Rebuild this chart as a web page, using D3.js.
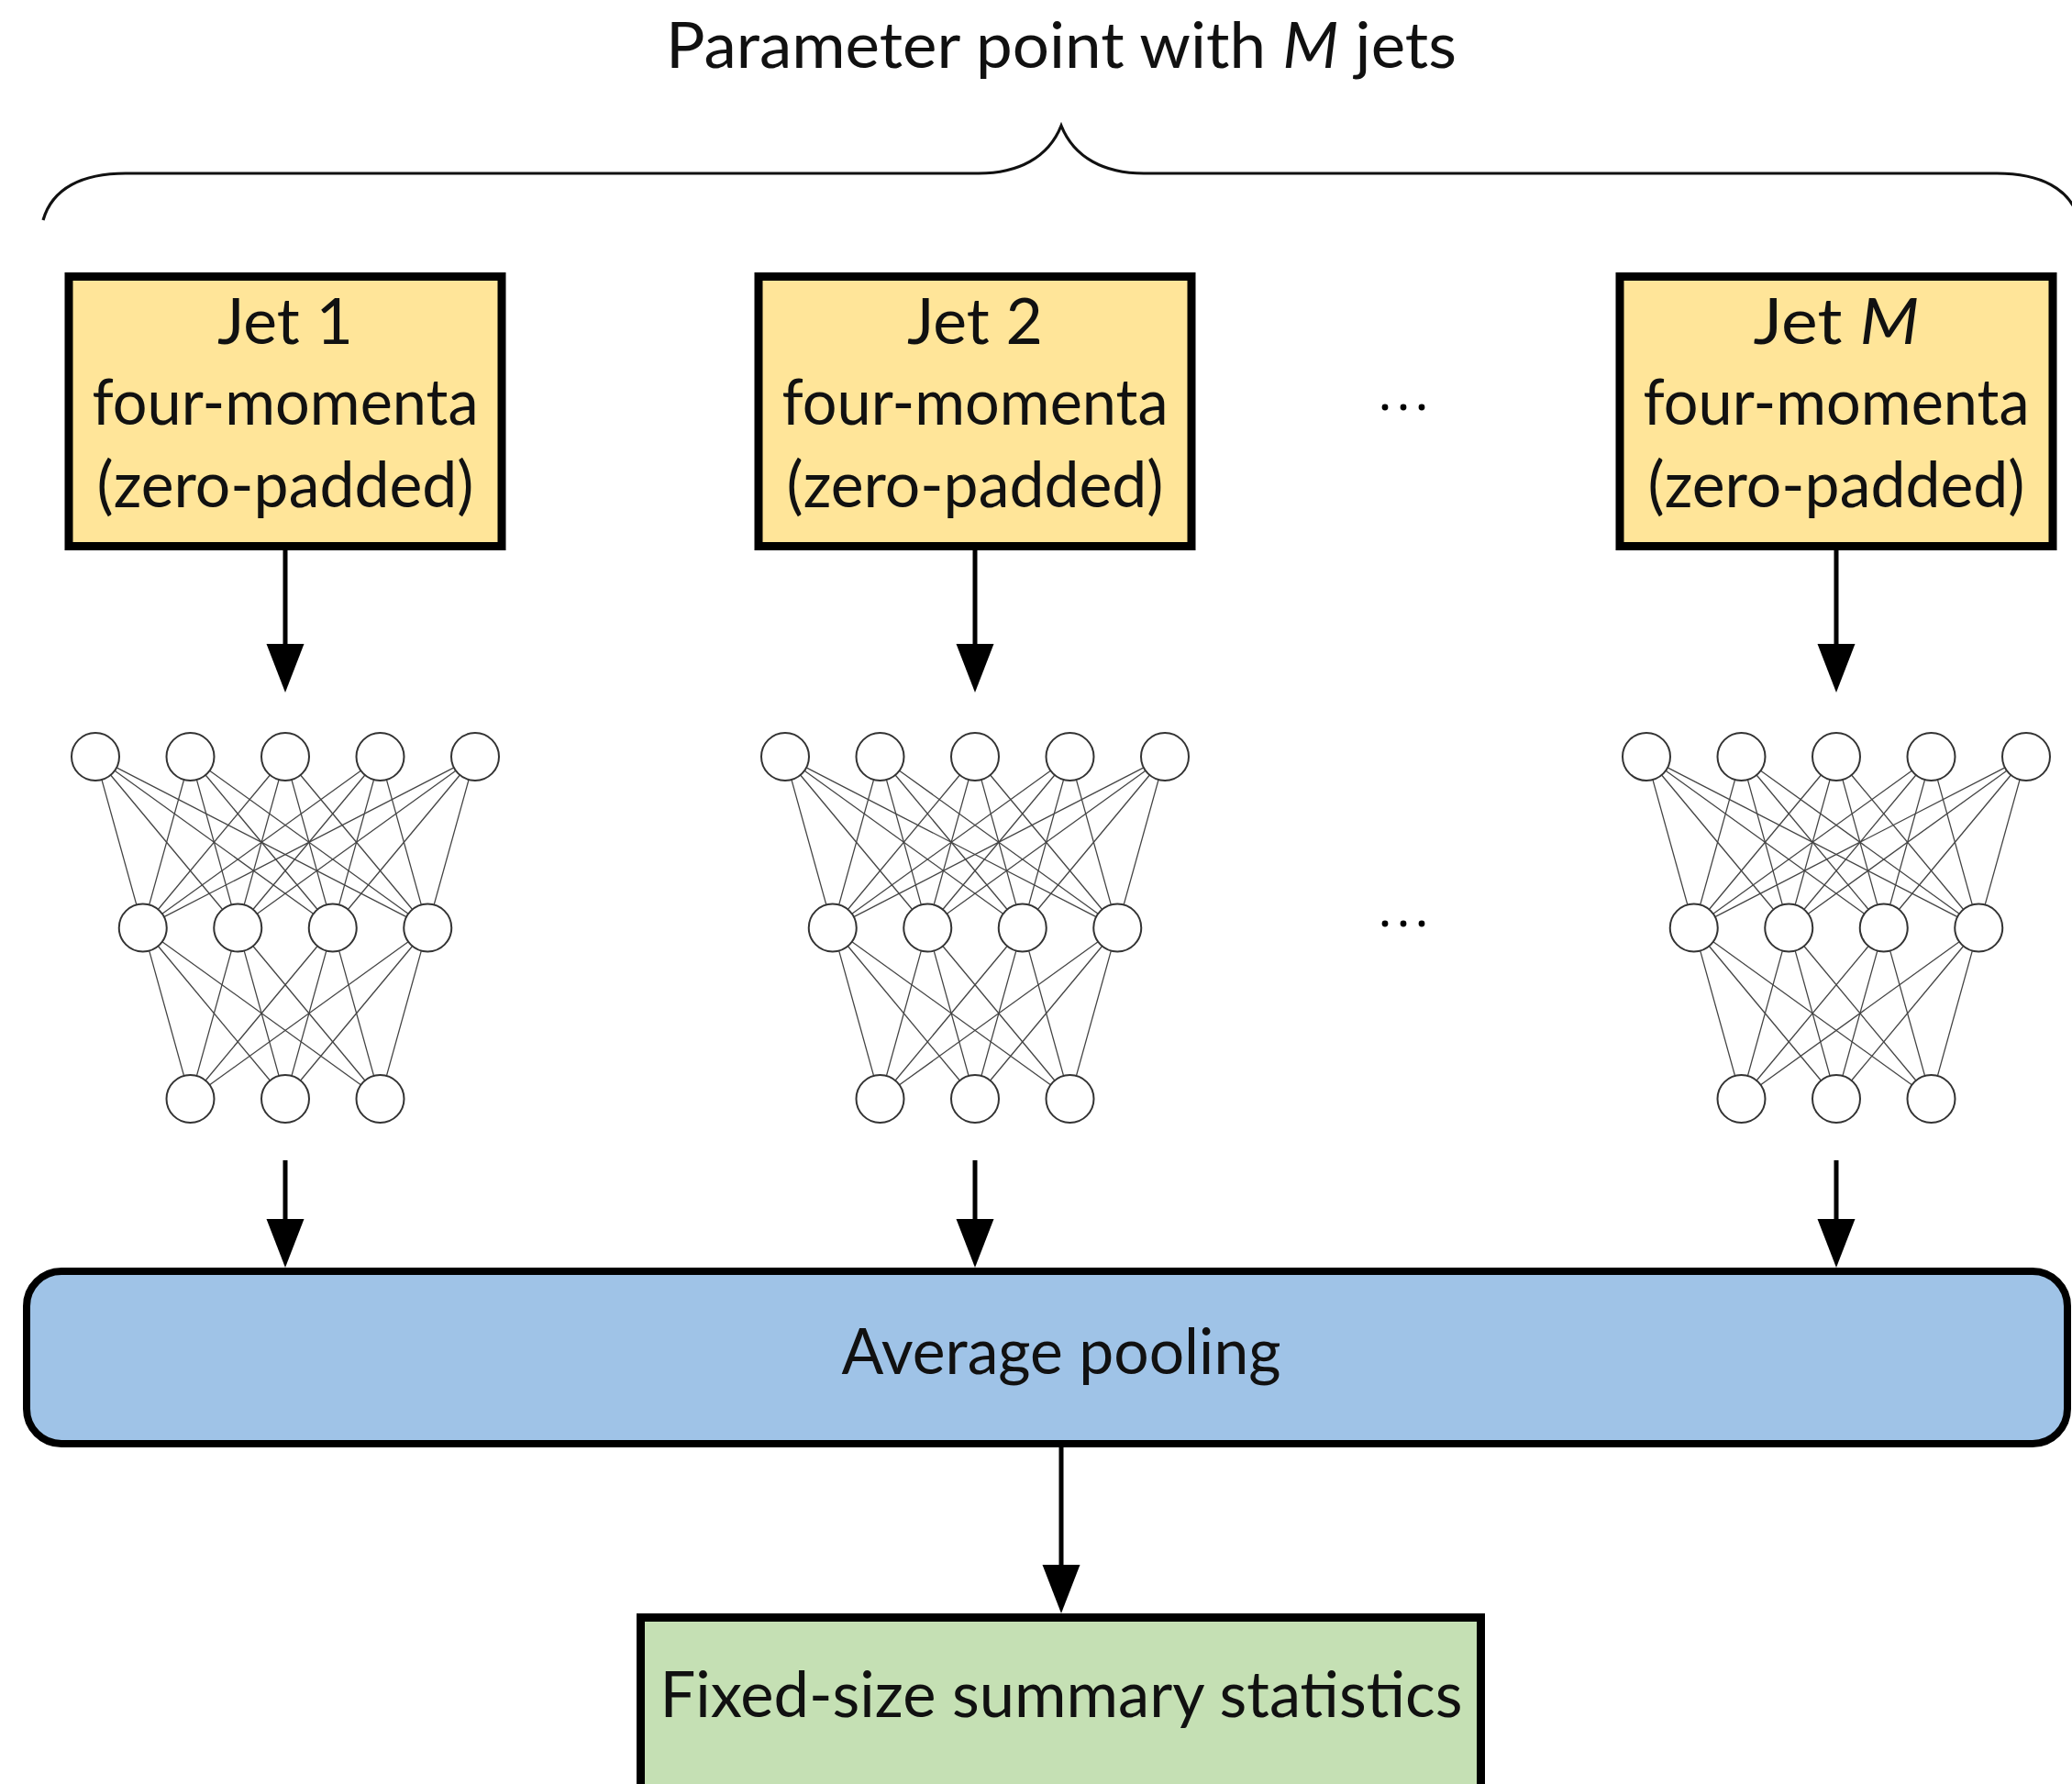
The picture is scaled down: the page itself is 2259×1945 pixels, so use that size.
<!DOCTYPE html>
<html>
<head>
<meta charset="utf-8">
<script src="https://cdn.jsdelivr.net/npm/d3@7"></script>
<style>
  html, body { margin: 0; padding: 0; background: #ffffff; }
  svg { display: block; }
</style>
</head>
<body>
<script>
// ---------------- data ----------------
const titleParts = [{t: "Parameter point with "}, {t: "M", i: true}, {t: " jets"}];
const jetIds = ["1", "2", "M"];
const jetItalic = [false, false, true];
const jetLines = ["four-momenta", "(zero-padded)"];
const columns = ["jet1", "jet2", "ellipsis", "jetM"];
const jetColumns = ["jet1", "jet2", "jetM"];
const layerSizes = [5, 4, 3];
const poolLabel = "Average pooling";
const outputLabel = "Fixed-size summary statistics";
const ellipsis = "···";

// ---------------- layout ----------------
const W = 2259, H = 1945;
const FONT = "Lato, 'Open Sans', sans-serif";
const FS = 70;

const svg = d3.select("body").append("svg")
  .attr("width", W).attr("height", H)
  .attr("viewBox", `0 0 ${W} ${H}`);

const colX = d3.scaleOrdinal().domain(columns).range([311, 1063, 1530, 2002]);
const layerY = d3.scalePoint().domain(d3.range(layerSizes.length)).range([825, 1198]);
const nodeOffset = d3.scaleLinear().domain([-2, 2]).range([-207, 207]);
const nodeR = 26;
const centerX = 1157;

function addText(g, cx, y, parts, width) {
  const t = g.append("text")
    .attr("x", cx - width / 2)
    .attr("y", y)
    .attr("font-family", FONT)
    .attr("font-size", FS)
    .attr("fill", "#111")
    .attr("textLength", width)
    .attr("lengthAdjust", "spacingAndGlyphs");
  parts.forEach(p => {
    t.append("tspan").attr("font-style", p.i ? "italic" : "normal").text(p.t);
  });
  return t;
}

function arrow(g, x, y0, y1) {
  const headL = 53, headW = 41;
  g.append("line")
    .attr("x1", x).attr("x2", x)
    .attr("y1", y0).attr("y2", y1 - headL + 4)
    .attr("stroke", "#000").attr("stroke-width", 5);
  const p = d3.path();
  p.moveTo(x - headW / 2, y1 - headL);
  p.lineTo(x + headW / 2, y1 - headL);
  p.lineTo(x, y1);
  p.closePath();
  g.append("path").attr("d", p.toString()).attr("fill", "#000");
}

// ---------- title ----------
addText(svg, centerX, 74, titleParts, 862);

// ---------- brace ----------
const brace = d3.path();
brace.moveTo(47, 240);
brace.bezierCurveTo(57, 205, 90, 189, 137, 189);
brace.lineTo(1067, 189);
brace.bezierCurveTo(1110, 189, 1143, 172, 1157, 137);
brace.bezierCurveTo(1171, 172, 1204, 189, 1247, 189);
brace.lineTo(2177, 189);
brace.bezierCurveTo(2224, 189, 2257, 205, 2267, 240);
svg.append("path").attr("d", brace.toString())
  .attr("fill", "none").attr("stroke", "#111").attr("stroke-width", 3.2);

// ---------- jet boxes ----------
const boxW = 481, boxTop = 297, boxBot = 600, sw = 9;
const jetG = svg.append("g");
jetColumns.forEach((c, i) => {
  const cx = colX(c);
  jetG.append("rect")
    .attr("x", cx - boxW / 2 + sw / 2).attr("y", boxTop + sw / 2)
    .attr("width", boxW - sw).attr("height", boxBot - boxTop - sw)
    .attr("fill", "#FFE599").attr("stroke", "#000").attr("stroke-width", sw);
  addText(jetG, cx, 375, [{t: "Jet "}, {t: jetIds[i], i: jetItalic[i]}], jetItalic[i] ? 181 : 148);
  addText(jetG, cx, 463, [{t: jetLines[0]}], 421);
  addText(jetG, cx, 553, [{t: jetLines[1]}], 411);
  arrow(jetG, cx, boxBot, 755);
});

// ---------- networks ----------
const netG = svg.append("g");
jetColumns.forEach(c => {
  const cx = colX(c);
  const layers = layerSizes.map((n, li) =>
    d3.range(n).map(k => ({x: cx + nodeOffset(k - (n - 1) / 2), y: layerY(li)})));
  // edges
  for (let li = 0; li < layers.length - 1; li++) {
    layers[li].forEach(a => layers[li + 1].forEach(b => {
      const dx = b.x - a.x, dy = b.y - a.y, d = Math.hypot(dx, dy);
      const ux = dx / d, uy = dy / d;
      netG.append("line")
        .attr("x1", a.x + ux * nodeR).attr("y1", a.y + uy * nodeR)
        .attr("x2", b.x - ux * nodeR).attr("y2", b.y - uy * nodeR)
        .attr("stroke", "#444").attr("stroke-width", 1.3);
    }));
  }
  layers.flat().forEach(n => {
    netG.append("circle").attr("cx", n.x).attr("cy", n.y).attr("r", nodeR)
      .attr("fill", "#fff").attr("stroke", "#333").attr("stroke-width", 2);
  });
  arrow(netG, cx, 1265, 1382);
});

// ---------- ellipses ----------
const ex = colX("ellipsis");
[444, 1007].forEach(y => {
  [-20, 0, 20].forEach(dx => {
    svg.append("circle").attr("cx", ex + dx).attr("cy", y).attr("r", 3.4).attr("fill", "#000");
  });
});

// ---------- pooling box ----------
const poolG = svg.append("g");
poolG.append("rect")
  .attr("x", 25 + 4).attr("y", 1382 + 4)
  .attr("width", 2258 - 25 - 8).attr("height", 1578 - 1382 - 8)
  .attr("rx", 38).attr("ry", 38)
  .attr("fill", "#9FC3E7").attr("stroke", "#000").attr("stroke-width", 8);
addText(poolG, centerX, 1498, [{t: poolLabel}], 479);
arrow(poolG, centerX, 1578, 1759);

// ---------- output box ----------
const outG = svg.append("g");
outG.append("rect")
  .attr("x", 694 + 4.5).attr("y", 1759 + 4.5)
  .attr("width", 1619 - 694 - 9).attr("height", 400)
  .attr("fill", "#C5E0B4").attr("stroke", "#000").attr("stroke-width", 9);
addText(outG, centerX, 1872, [{t: outputLabel}], 875);
</script>
</body>
</html>
